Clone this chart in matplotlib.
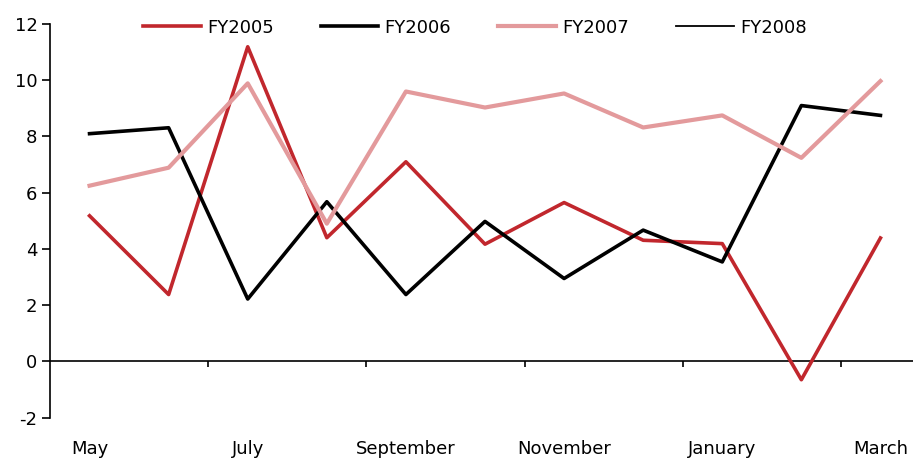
import numpy as np
import matplotlib.pyplot as plt

months = ['May', 'June', 'July', 'August', 'September', 'October', 'November',
          'December', 'January', 'February', 'March']
fy2005 = [5.18, 2.38, 11.19, 4.40, 7.10, 4.17, 5.65, 4.31, 4.19, -0.65, 4.39]
fy2006 = [8.10, 8.31, 2.22, 5.68, 2.38, 4.98, 2.95, 4.67, 3.54, 9.10, 8.75]
fy2007 = [6.25, 6.89, 9.89, 4.90, 9.60, 9.03, 9.53, 8.32, 8.75, 7.24, 9.97]
fy2008 = []  # no data yet
yticks = [-2, 0, 2, 4, 6, 8, 10, 12]

plt.rcParams['font.family'] = 'DejaVu Sans'
fig = plt.figure(figsize=(9.13, 4.61), dpi=100)
ax = fig.add_axes([50 / 913, 43.3 / 461, 870 / 913, 393.7 / 461])

x = np.arange(len(months))
ax.plot(x, fy2005, color='#C1272D', lw=2.6, label='FY2005')
ax.plot(x, fy2006, color='black', lw=2.6, label='FY2006')
ax.plot(x, fy2007, color='#E39A9C', lw=3.0, label='FY2007')
ax.plot(x[:len(fy2008)], fy2008, color='black', lw=1.3, label='FY2008')

ax.set_xlim(-0.5, len(months) - 0.5)
ax.set_ylim(-2, 12)
ax.set_yticks(yticks)
ax.set_yticklabels([str(v) for v in yticks])

# category labels every other month, shown below the plot
ax.set_xticks(x[::2])
ax.set_xticklabels(months[::2])
ax.tick_params(axis='x', length=0, pad=16, labelsize=13)
ax.tick_params(axis='y', length=6, width=1.2, direction='out', labelsize=13, pad=3)

for s in ['top', 'right', 'bottom']:
    ax.spines[s].set_visible(False)
ax.spines['left'].set_linewidth(1.2)

# zero line with boundary tick marks
ax.axhline(0, color='black', lw=1.2, zorder=1)
bounds = x[1:-1:2] + 0.5
ax.vlines(bounds, -0.2, 0, color='black', lw=1.2)

fig.legend(loc='center', bbox_to_anchor=(0.52, 0.94), ncol=4, frameon=False,
           fontsize=13, handlelength=3.2, handletextpad=0.35, columnspacing=2.6)

fig.savefig('out.png', dpi=100)
